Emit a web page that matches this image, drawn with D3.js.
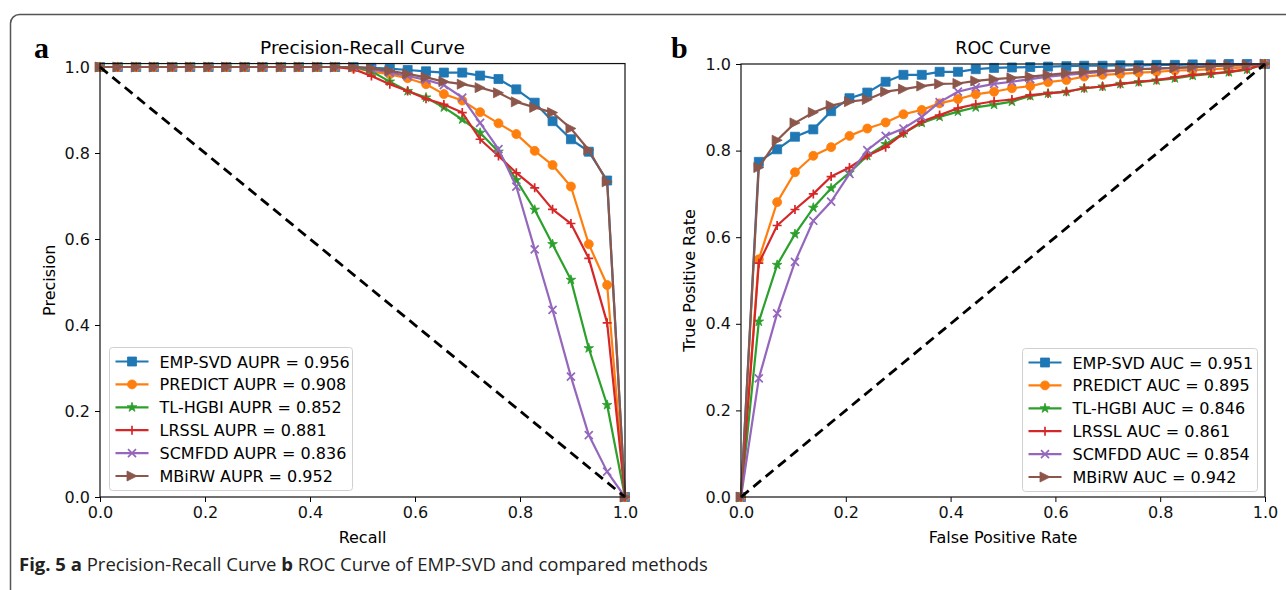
<!DOCTYPE html>
<html>
<head>
<meta charset="utf-8">
<script src="https://cdn.jsdelivr.net/npm/d3@7"></script>
<style>
  body { margin: 0; background: #fff; }
  svg { display: block; }
</style>
</head>
<body>
<svg id="fig" width="1286" height="590"></svg>
<script>
// methods + colours (matplotlib tab10)
const methods = ['EMP-SVD', 'PREDICT', 'TL-HGBI', 'LRSSL', 'SCMFDD', 'MBiRW'];
const colors = ['#1f77b4', '#ff7f0e', '#2ca02c', '#d62728', '#9467bd', '#8c564b'];
const markers = ['square', 'circle', 'star', 'plus', 'x', 'triright'];

const aupr = ['0.956', '0.908', '0.852', '0.881', '0.836', '0.952'];
const auc = ['0.951', '0.895', '0.846', '0.861', '0.854', '0.942'];

// shared x grid (recall / false positive rate)
const grid = [0, 0.034, 0.069, 0.103, 0.138, 0.172, 0.207, 0.241, 0.276, 0.310,
              0.345, 0.379, 0.414, 0.448, 0.483, 0.517, 0.552, 0.586, 0.621, 0.655,
              0.690, 0.724, 0.759, 0.793, 0.828, 0.862, 0.897, 0.931, 0.966, 1.0];

// precision values per method
const prEmpSvd = [1, 1, 1, 1, 1, 1, 1, 1, 1, 1, 1, 1, 1, 1, 1,
                  0.998, 0.996, 0.993, 0.990, 0.987, 0.987, 0.980, 0.972, 0.948, 0.917,
                  0.874, 0.832, 0.803, 0.736, 0];
const prPredict = [1, 1, 1, 1, 1, 1, 1, 1, 1, 1, 1, 1, 1, 1, 0.998,
                   0.990, 0.983, 0.974, 0.960, 0.937, 0.922, 0.895, 0.869, 0.844, 0.805,
                   0.772, 0.722, 0.588, 0.493, 0];
const prTlHgbi = [1, 1, 1, 1, 1, 1, 1, 1, 1, 1, 1, 1, 1, 1, 1,
                  0.990, 0.966, 0.944, 0.929, 0.906, 0.878, 0.847, 0.803, 0.737, 0.668,
                  0.588, 0.505, 0.346, 0.214, 0];
const prLrssl = [1, 1, 1, 1, 1, 1, 1, 1, 1, 1, 1, 1, 1, 1, 0.995,
                 0.979, 0.960, 0.944, 0.926, 0.913, 0.894, 0.832, 0.793, 0.754, 0.719,
                 0.669, 0.636, 0.555, 0.405, 0];
const prScmfdd = [1, 1, 1, 1, 1, 1, 1, 1, 1, 1, 1, 1, 1, 1, 1,
                  0.995, 0.987, 0.979, 0.970, 0.958, 0.929, 0.870, 0.809, 0.722, 0.576,
                  0.435, 0.280, 0.144, 0.059, 0];
const prMbirw = [1, 1, 1, 1, 1, 1, 1, 1, 1, 1, 1, 1, 1, 1, 1,
                 0.997, 0.991, 0.984, 0.976, 0.966, 0.960, 0.952, 0.940, 0.919, 0.906,
                 0.894, 0.857, 0.807, 0.733, 0];

// true positive rate values per method
const rocEmpSvd = [0, 0.774, 0.803, 0.832, 0.849, 0.891, 0.921, 0.934, 0.959, 0.975,
                   0.975, 0.982, 0.982, 0.988, 0.991, 0.992, 0.993, 0.994, 0.995, 0.996,
                   0.996, 0.997, 0.997, 0.998, 0.998, 0.999, 0.999, 1.0, 1.0, 1.0];
const rocPredict = [0, 0.549, 0.681, 0.750, 0.788, 0.808, 0.834, 0.851, 0.865, 0.884,
                    0.894, 0.909, 0.919, 0.930, 0.936, 0.944, 0.949, 0.958, 0.963, 0.971,
                    0.975, 0.977, 0.980, 0.982, 0.985, 0.986, 0.988, 0.990, 0.993, 1.0];
const rocTlHgbi = [0, 0.405, 0.536, 0.607, 0.668, 0.713, 0.749, 0.788, 0.815, 0.840,
                   0.864, 0.878, 0.890, 0.900, 0.906, 0.913, 0.926, 0.932, 0.936, 0.944,
                   0.948, 0.954, 0.958, 0.962, 0.967, 0.973, 0.977, 0.981, 0.987, 1.0];
const rocLrssl = [0, 0.540, 0.627, 0.664, 0.700, 0.740, 0.761, 0.788, 0.808, 0.840,
                  0.867, 0.882, 0.898, 0.907, 0.914, 0.918, 0.928, 0.932, 0.936, 0.944,
                  0.948, 0.954, 0.959, 0.963, 0.969, 0.975, 0.978, 0.982, 0.988, 1.0];
const rocScmfdd = [0, 0.274, 0.424, 0.543, 0.638, 0.682, 0.746, 0.801, 0.834, 0.851,
                   0.878, 0.912, 0.936, 0.946, 0.954, 0.959, 0.965, 0.971, 0.975, 0.978,
                   0.982, 0.985, 0.988, 0.990, 0.991, 0.993, 0.995, 0.997, 0.998, 1.0];
const rocMbirw = [0, 0.761, 0.824, 0.864, 0.888, 0.904, 0.913, 0.918, 0.936, 0.942,
                  0.949, 0.954, 0.955, 0.961, 0.965, 0.968, 0.971, 0.975, 0.979, 0.982,
                  0.984, 0.986, 0.988, 0.989, 0.991, 0.993, 0.995, 0.997, 0.998, 1.0];

const tickValues = [0, 0.2, 0.4, 0.6, 0.8, 1.0];

const prSeries = [prEmpSvd, prPredict, prTlHgbi, prLrssl, prScmfdd, prMbirw];
const rocSeries = [rocEmpSvd, rocPredict, rocTlHgbi, rocLrssl, rocScmfdd, rocMbirw];

const svg = d3.select('#fig');
const FONT = 'DejaVu Sans, sans-serif';

// outer figure frame (continues past the page edges)
svg.append('rect')
   .attr('x', 10.5).attr('y', 14.5)
   .attr('width', 1400).attr('height', 700)
   .attr('rx', 9)
   .attr('fill', 'none')
   .attr('stroke', '#555')
   .attr('stroke-width', 1.5);

// marker path generator, centred on 0,0
function markerPath(type, s) {
    const h = s / 2;
    switch (type) {
    case 'square': return `M${-h},${-h}H${h}V${h}H${-h}Z`;
    case 'circle': return d3.symbol(d3.symbolCircle, Math.PI * h * h)();
    case 'star': return d3.symbol(d3.symbolStar, s * s * 0.45)();
    case 'plus': return `M${-h},0H${h}M0,${-h}V${h}`;
    case 'x': return `M${-h},${-h}L${h},${h}M${-h},${h}L${h},${-h}`;
    case 'triright': return `M${h},0L${-h},${-h}L${-h},${h}Z`;
    }
}
const markerSize = {square: 9, circle: 9, star: 8, plus: 9, x: 8, triright: 10};

function drawMarker(g, type, color, x, y) {
    const open = (type === 'plus' || type === 'x');
    g.append('path')
     .attr('d', markerPath(type, markerSize[type]))
     .attr('transform', `translate(${x},${y})`)
     .attr('fill', open ? 'none' : color)
     .attr('stroke', color)
     .attr('stroke-width', open ? 1.7 : 0.8);
}

function drawPanel(p) {
    const x = d3.scaleLinear().domain([0, 1]).range([p.left, p.right]);
    const y = d3.scaleLinear().domain([0, p.ymax]).range([p.bottom, p.bottom - (p.bottom - p.top1) * p.ymax]);
    const top = y(p.ymax);

    const g = svg.append('g');

    // axes
    g.append('g')
     .attr('transform', `translate(0,${p.bottom})`)
     .call(d3.axisBottom(x).tickValues(tickValues).tickFormat(d3.format('.1f')).tickSize(5).tickPadding(5))
     .call(a => a.select('.domain').remove())
     .call(a => a.selectAll('text').attr('font-family', FONT).attr('font-size', 16).attr('fill', '#111'));
    g.append('g')
     .attr('transform', `translate(${p.left},0)`)
     .call(d3.axisLeft(y).tickValues(tickValues).tickFormat(d3.format('.1f')).tickSize(5).tickPadding(5))
     .call(a => a.select('.domain').remove())
     .call(a => a.selectAll('text').attr('font-family', FONT).attr('font-size', 16).attr('fill', '#111'));

    // curves
    const line = d3.line().x(d => x(d[0])).y(d => y(d[1]));
    p.series.forEach((vals, i) => {
        const pts = grid.map((gx, k) => [gx, vals[k]]);
        g.append('path')
         .datum(pts)
         .attr('d', line)
         .attr('fill', 'none')
         .attr('stroke', colors[i])
         .attr('stroke-width', 2.2)
         .attr('stroke-linejoin', 'round');
        pts.forEach(d => drawMarker(g, markers[i], colors[i], x(d[0]), y(d[1])));
    });

    // chance line
    g.append('line')
     .attr('x1', x(0)).attr('y1', y(p.diag[0]))
     .attr('x2', x(1)).attr('y2', y(p.diag[1]))
     .attr('stroke', '#000')
     .attr('stroke-width', 2.8)
     .attr('stroke-dasharray', '10,6');

    // frame
    g.append('rect')
     .attr('x', p.left).attr('y', top)
     .attr('width', p.right - p.left).attr('height', p.bottom - top)
     .attr('fill', 'none').attr('stroke', '#111').attr('stroke-width', 1.2);

    // title + labels
    g.append('text')
     .attr('x', (p.left + p.right) / 2).attr('y', 54)
     .attr('text-anchor', 'middle')
     .attr('font-family', FONT).attr('font-size', p.titleSize)
     .text(p.title);
    g.append('text')
     .attr('x', (p.left + p.right) / 2).attr('y', 543)
     .attr('text-anchor', 'middle')
     .attr('font-family', FONT).attr('font-size', 16)
     .text(p.xlabel);
    g.append('text')
     .attr('transform', `translate(${p.ylabelX},${(p.bottom + top) / 2}) rotate(-90)`)
     .attr('text-anchor', 'middle')
     .attr('font-family', FONT).attr('font-size', 16)
     .text(p.ylabel);

    // panel letter
    g.append('text')
     .attr('x', p.letterX).attr('y', 58)
     .attr('font-family', 'Liberation Serif, serif').attr('font-weight', 'bold').attr('font-size', 30)
     .text(p.letter);

    // legend
    const lg = g.append('g').attr('transform', `translate(${p.legX},${p.legY})`);
    lg.append('rect')
      .attr('width', p.legW).attr('height', 143)
      .attr('rx', 3)
      .attr('fill', 'rgba(255,255,255,0.85)')
      .attr('stroke', '#d0d0d0').attr('stroke-width', 1);
    methods.forEach((m, i) => {
        const ry = 14 + i * 22.9;
        lg.append('line')
          .attr('x1', 6).attr('x2', 39).attr('y1', ry).attr('y2', ry)
          .attr('stroke', colors[i]).attr('stroke-width', 2.2);
        drawMarker(lg, markers[i], colors[i], 22.5, ry);
        lg.append('text')
          .attr('x', 50).attr('y', ry + 6)
          .attr('font-family', FONT).attr('font-size', 16)
          .text(`${m} ${p.metric} = ${p.scores[i]}`);
    });
}

drawPanel({
    left: 100, right: 625, bottom: 497, top1: 67, ymax: 1.008,
    series: prSeries, diag: [1, 0], titleSize: 18.5,
    title: 'Precision-Recall Curve', xlabel: 'Recall', ylabel: 'Precision',
    ylabelX: 55, letter: 'a', letterX: 34,
    legX: 109.5, legY: 347.5, legW: 243, metric: 'AUPR', scores: aupr
});

drawPanel({
    left: 741, right: 1265, bottom: 497, top1: 64, ymax: 1.0,
    series: rocSeries, diag: [0, 1], titleSize: 17.5,
    title: 'ROC Curve', xlabel: 'False Positive Rate', ylabel: 'True Positive Rate',
    ylabelX: 695, letter: 'b', letterX: 671,
    legX: 1022.5, legY: 348.5, legW: 235, metric: 'AUC', scores: auc
});

// caption
const cap = svg.append('text')
   .attr('x', 19).attr('y', 571)
   .attr('font-family', 'Open Sans, sans-serif').attr('font-size', 18.5)
   .attr('fill', '#222');
cap.append('tspan').attr('font-weight', 'bold').text('Fig. 5 a');
cap.append('tspan').text(' Precision-Recall Curve ');
cap.append('tspan').attr('font-weight', 'bold').text('b');
cap.append('tspan').text(' ROC Curve of EMP-SVD and compared methods');
</script>
</body>
</html>
